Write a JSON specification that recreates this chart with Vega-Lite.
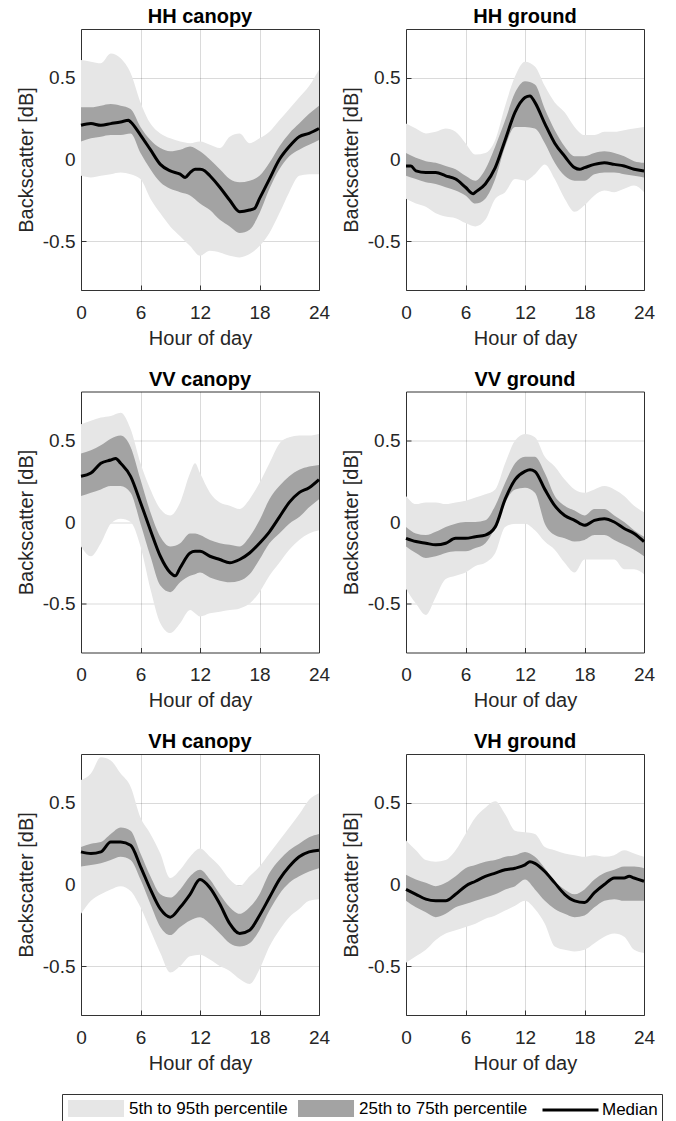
{
"$schema": "https://vega.github.io/schema/vega-lite/v6.json",
"background": "white",
"padding": {"left": 15, "top": 6, "right": 0, "bottom": 0},
"config": {
  "font": "Liberation Sans",
  "view": {"stroke": "#333333", "strokeWidth": 1},
  "axis": {"labelFont": "Liberation Sans", "titleFont": "Liberation Sans", "labelFontSize": 19, "titleFontSize": 20, "titleFontWeight": "normal", "labelColor": "#262626", "titleColor": "#262626", "grid": true, "gridColor": "#262626", "gridOpacity": 0.17, "gridWidth": 1, "domain": false, "ticks": true, "tickSize": -5, "tickColor": "#333333", "tickWidth": 1, "zindex": 1, "labelOverlap": false},
  "title": {"font": "Liberation Sans", "fontSize": 20, "fontWeight": "bold", "color": "#000000", "offset": 2, "baseline": "alphabetic", "anchor": "middle"},
  "legend": {"labelFont": "Liberation Sans", "labelFontSize": 17, "labelColor": "#000000", "labelLimit": 400, "titleFont": "Liberation Sans", "titleFontSize": 17}
},
"data": {"values": [
{"p":"HH canopy","h":0,"hi":0.61,"q3":0.32,"m":0.21,"q1":0.11,"lo":-0.10},
{"p":"HH canopy","h":1,"hi":0.60,"q3":0.32,"m":0.22,"q1":0.13,"lo":-0.11},
{"p":"HH canopy","h":2,"hi":0.59,"q3":0.33,"m":0.21,"q1":0.14,"lo":-0.10},
{"p":"HH canopy","h":3,"hi":0.65,"q3":0.34,"m":0.22,"q1":0.15,"lo":-0.09},
{"p":"HH canopy","h":4,"hi":0.62,"q3":0.33,"m":0.23,"q1":0.15,"lo":-0.08},
{"p":"HH canopy","h":5,"hi":0.53,"q3":0.31,"m":0.23,"q1":0.16,"lo":-0.09},
{"p":"HH canopy","h":6,"hi":0.35,"q3":0.20,"m":0.15,"q1":0.04,"lo":-0.12},
{"p":"HH canopy","h":7,"hi":0.22,"q3":0.12,"m":0.06,"q1":-0.06,"lo":-0.24},
{"p":"HH canopy","h":8,"hi":0.16,"q3":0.07,"m":-0.03,"q1":-0.14,"lo":-0.33},
{"p":"HH canopy","h":9,"hi":0.13,"q3":0.05,"m":-0.07,"q1":-0.18,"lo":-0.41},
{"p":"HH canopy","h":10,"hi":0.11,"q3":0.06,"m":-0.09,"q1":-0.20,"lo":-0.47},
{"p":"HH canopy","h":11,"hi":0.10,"q3":0.08,"m":-0.08,"q1":-0.22,"lo":-0.53},
{"p":"HH canopy","h":12,"hi":0.11,"q3":0.05,"m":-0.06,"q1":-0.27,"lo":-0.59},
{"p":"HH canopy","h":13,"hi":0.09,"q3":0.00,"m":-0.10,"q1":-0.31,"lo":-0.56},
{"p":"HH canopy","h":14,"hi":0.07,"q3":-0.06,"m":-0.17,"q1":-0.37,"lo":-0.57},
{"p":"HH canopy","h":15,"hi":0.14,"q3":-0.12,"m":-0.25,"q1":-0.41,"lo":-0.59},
{"p":"HH canopy","h":16,"hi":0.16,"q3":-0.14,"m":-0.32,"q1":-0.45,"lo":-0.60},
{"p":"HH canopy","h":17,"hi":0.10,"q3":-0.13,"m":-0.31,"q1":-0.43,"lo":-0.58},
{"p":"HH canopy","h":18,"hi":0.13,"q3":-0.10,"m":-0.24,"q1":-0.33,"lo":-0.53},
{"p":"HH canopy","h":19,"hi":0.17,"q3":-0.02,"m":-0.12,"q1":-0.18,"lo":-0.45},
{"p":"HH canopy","h":20,"hi":0.24,"q3":0.08,"m":0.00,"q1":-0.06,"lo":-0.33},
{"p":"HH canopy","h":21,"hi":0.31,"q3":0.16,"m":0.08,"q1":0.02,"lo":-0.20},
{"p":"HH canopy","h":22,"hi":0.38,"q3":0.22,"m":0.14,"q1":0.06,"lo":-0.10},
{"p":"HH canopy","h":23,"hi":0.45,"q3":0.28,"m":0.16,"q1":0.09,"lo":-0.09},
{"p":"HH canopy","h":24,"hi":0.55,"q3":0.33,"m":0.19,"q1":0.12,"lo":-0.09},
{"p":"HH canopy","h":4.8,"m":0.24},
{"p":"HH canopy","h":10.5,"m":-0.11},
{"p":"HH canopy","h":11.5,"m":-0.06},
{"p":"HH canopy","h":12.5,"m":-0.07},
{"p":"HH canopy","h":17.5,"m":-0.30},
{"p":"HH ground","h":0,"hi":0.22,"q3":0.04,"m":-0.04,"q1":-0.10,"lo":-0.24},
{"p":"HH ground","h":1,"hi":0.19,"q3":0.01,"m":-0.07,"q1":-0.12,"lo":-0.27},
{"p":"HH ground","h":2,"hi":0.16,"q3":-0.01,"m":-0.08,"q1":-0.14,"lo":-0.29},
{"p":"HH ground","h":3,"hi":0.17,"q3":-0.02,"m":-0.08,"q1":-0.15,"lo":-0.33},
{"p":"HH ground","h":4,"hi":0.19,"q3":-0.04,"m":-0.10,"q1":-0.17,"lo":-0.35},
{"p":"HH ground","h":5,"hi":0.17,"q3":-0.06,"m":-0.12,"q1":-0.19,"lo":-0.36},
{"p":"HH ground","h":6,"hi":0.10,"q3":-0.10,"m":-0.17,"q1":-0.22,"lo":-0.39},
{"p":"HH ground","h":7,"hi":0.03,"q3":-0.13,"m":-0.20,"q1":-0.27,"lo":-0.41},
{"p":"HH ground","h":8,"hi":0.04,"q3":-0.06,"m":-0.15,"q1":-0.24,"lo":-0.37},
{"p":"HH ground","h":9,"hi":0.12,"q3":0.08,"m":-0.05,"q1":-0.12,"lo":-0.24},
{"p":"HH ground","h":10,"hi":0.33,"q3":0.24,"m":0.12,"q1":0.08,"lo":-0.20},
{"p":"HH ground","h":11,"hi":0.51,"q3":0.41,"m":0.29,"q1":0.20,"lo":-0.12},
{"p":"HH ground","h":12,"hi":0.60,"q3":0.48,"m":0.38,"q1":0.20,"lo":-0.13},
{"p":"HH ground","h":13,"hi":0.57,"q3":0.46,"m":0.35,"q1":0.19,"lo":-0.09},
{"p":"HH ground","h":14,"hi":0.45,"q3":0.31,"m":0.22,"q1":0.10,"lo":-0.03},
{"p":"HH ground","h":15,"hi":0.35,"q3":0.18,"m":0.10,"q1":-0.02,"lo":-0.12},
{"p":"HH ground","h":16,"hi":0.29,"q3":0.08,"m":0.02,"q1":-0.10,"lo":-0.24},
{"p":"HH ground","h":17,"hi":0.20,"q3":0.02,"m":-0.05,"q1":-0.13,"lo":-0.32},
{"p":"HH ground","h":18,"hi":0.15,"q3":0.02,"m":-0.05,"q1":-0.13,"lo":-0.28},
{"p":"HH ground","h":19,"hi":0.15,"q3":0.04,"m":-0.03,"q1":-0.09,"lo":-0.22},
{"p":"HH ground","h":20,"hi":0.17,"q3":0.05,"m":-0.02,"q1":-0.08,"lo":-0.19},
{"p":"HH ground","h":21,"hi":0.17,"q3":0.04,"m":-0.03,"q1":-0.08,"lo":-0.20},
{"p":"HH ground","h":22,"hi":0.18,"q3":0.02,"m":-0.04,"q1":-0.09,"lo":-0.18},
{"p":"HH ground","h":23,"hi":0.19,"q3":-0.01,"m":-0.06,"q1":-0.10,"lo":-0.16},
{"p":"HH ground","h":24,"hi":0.20,"q3":-0.02,"m":-0.07,"q1":-0.11,"lo":-0.20},
{"p":"HH ground","h":0.5,"m":-0.04},
{"p":"HH ground","h":6.8,"m":-0.21},
{"p":"HH ground","h":12.5,"m":0.39},
{"p":"HH ground","h":17.5,"m":-0.06},
{"p":"VV canopy","h":0,"hi":0.60,"q3":0.42,"m":0.28,"q1":0.16,"lo":-0.15},
{"p":"VV canopy","h":1,"hi":0.62,"q3":0.44,"m":0.30,"q1":0.18,"lo":-0.21},
{"p":"VV canopy","h":2,"hi":0.64,"q3":0.47,"m":0.36,"q1":0.20,"lo":-0.13},
{"p":"VV canopy","h":3,"hi":0.65,"q3":0.51,"m":0.38,"q1":0.22,"lo":-0.01},
{"p":"VV canopy","h":4,"hi":0.67,"q3":0.53,"m":0.36,"q1":0.22,"lo":0.02},
{"p":"VV canopy","h":5,"hi":0.57,"q3":0.46,"m":0.28,"q1":0.18,"lo":0.00},
{"p":"VV canopy","h":6,"hi":0.36,"q3":0.26,"m":0.12,"q1":-0.01,"lo":-0.15},
{"p":"VV canopy","h":7,"hi":0.20,"q3":0.06,"m":-0.05,"q1":-0.21,"lo":-0.41},
{"p":"VV canopy","h":8,"hi":0.08,"q3":-0.09,"m":-0.21,"q1":-0.39,"lo":-0.62},
{"p":"VV canopy","h":9,"hi":0.04,"q3":-0.15,"m":-0.31,"q1":-0.43,"lo":-0.68},
{"p":"VV canopy","h":10,"hi":0.12,"q3":-0.13,"m":-0.28,"q1":-0.37,"lo":-0.62},
{"p":"VV canopy","h":11,"hi":0.30,"q3":-0.07,"m":-0.19,"q1":-0.33,"lo":-0.54},
{"p":"VV canopy","h":11.5,"hi":0.36,"q3":-0.07,"m":-0.18,"q1":-0.32,"lo":-0.56},
{"p":"VV canopy","h":12,"hi":0.30,"q3":-0.08,"m":-0.18,"q1":-0.31,"lo":-0.58},
{"p":"VV canopy","h":13,"hi":0.18,"q3":-0.11,"m":-0.21,"q1":-0.34,"lo":-0.56},
{"p":"VV canopy","h":14,"hi":0.12,"q3":-0.13,"m":-0.23,"q1":-0.36,"lo":-0.55},
{"p":"VV canopy","h":15,"hi":0.10,"q3":-0.14,"m":-0.25,"q1":-0.37,"lo":-0.54},
{"p":"VV canopy","h":16,"hi":0.08,"q3":-0.15,"m":-0.23,"q1":-0.36,"lo":-0.53},
{"p":"VV canopy","h":17,"hi":0.14,"q3":-0.09,"m":-0.19,"q1":-0.32,"lo":-0.50},
{"p":"VV canopy","h":18,"hi":0.24,"q3":0.01,"m":-0.13,"q1":-0.23,"lo":-0.43},
{"p":"VV canopy","h":19,"hi":0.36,"q3":0.14,"m":-0.06,"q1":-0.13,"lo":-0.33},
{"p":"VV canopy","h":20,"hi":0.48,"q3":0.22,"m":0.03,"q1":-0.07,"lo":-0.25},
{"p":"VV canopy","h":21,"hi":0.52,"q3":0.28,"m":0.12,"q1":-0.01,"lo":-0.17},
{"p":"VV canopy","h":22,"hi":0.53,"q3":0.32,"m":0.18,"q1":0.03,"lo":-0.11},
{"p":"VV canopy","h":23,"hi":0.53,"q3":0.34,"m":0.21,"q1":0.09,"lo":-0.07},
{"p":"VV canopy","h":24,"hi":0.54,"q3":0.35,"m":0.26,"q1":0.14,"lo":-0.05},
{"p":"VV canopy","h":3.5,"m":0.39},
{"p":"VV canopy","h":9.5,"m":-0.33},
{"p":"VV ground","h":0,"hi":0.16,"q3":-0.03,"m":-0.10,"q1":-0.15,"lo":-0.41},
{"p":"VV ground","h":1,"hi":0.11,"q3":-0.07,"m":-0.12,"q1":-0.19,"lo":-0.50},
{"p":"VV ground","h":2,"hi":0.12,"q3":-0.08,"m":-0.13,"q1":-0.22,"lo":-0.57},
{"p":"VV ground","h":3,"hi":0.12,"q3":-0.06,"m":-0.14,"q1":-0.21,"lo":-0.46},
{"p":"VV ground","h":4,"hi":0.11,"q3":-0.03,"m":-0.13,"q1":-0.19,"lo":-0.35},
{"p":"VV ground","h":5,"hi":0.12,"q3":-0.01,"m":-0.10,"q1":-0.18,"lo":-0.33},
{"p":"VV ground","h":6,"hi":0.13,"q3":0.00,"m":-0.10,"q1":-0.18,"lo":-0.31},
{"p":"VV ground","h":7,"hi":0.15,"q3":0.00,"m":-0.09,"q1":-0.16,"lo":-0.27},
{"p":"VV ground","h":8,"hi":0.17,"q3":0.01,"m":-0.08,"q1":-0.13,"lo":-0.25},
{"p":"VV ground","h":9,"hi":0.20,"q3":0.10,"m":-0.03,"q1":-0.03,"lo":-0.19},
{"p":"VV ground","h":10,"hi":0.36,"q3":0.24,"m":0.14,"q1":0.12,"lo":-0.03},
{"p":"VV ground","h":11,"hi":0.50,"q3":0.36,"m":0.26,"q1":0.20,"lo":-0.01},
{"p":"VV ground","h":12,"hi":0.54,"q3":0.40,"m":0.31,"q1":0.21,"lo":-0.01},
{"p":"VV ground","h":13,"hi":0.52,"q3":0.40,"m":0.31,"q1":0.18,"lo":-0.05},
{"p":"VV ground","h":14,"hi":0.40,"q3":0.30,"m":0.20,"q1":-0.01,"lo":-0.12},
{"p":"VV ground","h":15,"hi":0.34,"q3":0.16,"m":0.10,"q1":-0.08,"lo":-0.17},
{"p":"VV ground","h":16,"hi":0.26,"q3":0.10,"m":0.04,"q1":-0.10,"lo":-0.25},
{"p":"VV ground","h":17,"hi":0.20,"q3":0.07,"m":0.01,"q1":-0.12,"lo":-0.31},
{"p":"VV ground","h":18,"hi":0.18,"q3":0.04,"m":-0.02,"q1":-0.11,"lo":-0.23},
{"p":"VV ground","h":19,"hi":0.20,"q3":0.08,"m":0.01,"q1":-0.08,"lo":-0.23},
{"p":"VV ground","h":20,"hi":0.22,"q3":0.08,"m":0.02,"q1":-0.08,"lo":-0.23},
{"p":"VV ground","h":21,"hi":0.20,"q3":0.04,"m":0.00,"q1":-0.11,"lo":-0.23},
{"p":"VV ground","h":22,"hi":0.16,"q3":0.00,"m":-0.04,"q1":-0.14,"lo":-0.29},
{"p":"VV ground","h":23,"hi":0.10,"q3":-0.05,"m":-0.07,"q1":-0.17,"lo":-0.29},
{"p":"VV ground","h":24,"hi":0.06,"q3":-0.09,"m":-0.12,"q1":-0.21,"lo":-0.32},
{"p":"VV ground","h":12.5,"m":0.32},
{"p":"VH canopy","h":0,"hi":0.64,"q3":0.23,"m":0.20,"q1":0.11,"lo":-0.18},
{"p":"VH canopy","h":1,"hi":0.68,"q3":0.25,"m":0.19,"q1":0.12,"lo":-0.10},
{"p":"VH canopy","h":2,"hi":0.78,"q3":0.26,"m":0.20,"q1":0.13,"lo":-0.06},
{"p":"VH canopy","h":3,"hi":0.76,"q3":0.31,"m":0.26,"q1":0.15,"lo":-0.03},
{"p":"VH canopy","h":4,"hi":0.68,"q3":0.35,"m":0.26,"q1":0.17,"lo":-0.01},
{"p":"VH canopy","h":5,"hi":0.60,"q3":0.33,"m":0.24,"q1":0.15,"lo":-0.04},
{"p":"VH canopy","h":6,"hi":0.41,"q3":0.19,"m":0.11,"q1":0.03,"lo":-0.14},
{"p":"VH canopy","h":7,"hi":0.31,"q3":0.05,"m":-0.03,"q1":-0.12,"lo":-0.28},
{"p":"VH canopy","h":8,"hi":0.19,"q3":-0.06,"m":-0.15,"q1":-0.26,"lo":-0.42},
{"p":"VH canopy","h":9,"hi":0.04,"q3":-0.08,"m":-0.20,"q1":-0.31,"lo":-0.54},
{"p":"VH canopy","h":10,"hi":0.09,"q3":-0.03,"m":-0.14,"q1":-0.26,"lo":-0.50},
{"p":"VH canopy","h":11,"hi":0.17,"q3":0.05,"m":-0.06,"q1":-0.22,"lo":-0.44},
{"p":"VH canopy","h":12,"hi":0.22,"q3":0.09,"m":0.03,"q1":-0.20,"lo":-0.43},
{"p":"VH canopy","h":13,"hi":0.17,"q3":0.03,"m":-0.02,"q1":-0.24,"lo":-0.46},
{"p":"VH canopy","h":14,"hi":0.11,"q3":-0.06,"m":-0.12,"q1":-0.30,"lo":-0.50},
{"p":"VH canopy","h":15,"hi":0.03,"q3":-0.14,"m":-0.24,"q1":-0.36,"lo":-0.53},
{"p":"VH canopy","h":16,"hi":-0.01,"q3":-0.18,"m":-0.30,"q1":-0.38,"lo":-0.58},
{"p":"VH canopy","h":17,"hi":0.05,"q3":-0.14,"m":-0.28,"q1":-0.36,"lo":-0.61},
{"p":"VH canopy","h":18,"hi":0.11,"q3":-0.06,"m":-0.19,"q1":-0.28,"lo":-0.52},
{"p":"VH canopy","h":19,"hi":0.19,"q3":0.07,"m":-0.08,"q1":-0.16,"lo":-0.38},
{"p":"VH canopy","h":20,"hi":0.27,"q3":0.15,"m":0.03,"q1":-0.06,"lo":-0.28},
{"p":"VH canopy","h":21,"hi":0.35,"q3":0.21,"m":0.11,"q1":0.01,"lo":-0.20},
{"p":"VH canopy","h":22,"hi":0.43,"q3":0.25,"m":0.17,"q1":0.05,"lo":-0.15},
{"p":"VH canopy","h":23,"hi":0.52,"q3":0.29,"m":0.20,"q1":0.08,"lo":-0.10},
{"p":"VH canopy","h":24,"hi":0.56,"q3":0.31,"m":0.21,"q1":0.10,"lo":-0.09},
{"p":"VH ground","h":0,"hi":0.27,"q3":0.06,"m":-0.03,"q1":-0.10,"lo":-0.48},
{"p":"VH ground","h":1,"hi":0.21,"q3":0.03,"m":-0.06,"q1":-0.14,"lo":-0.44},
{"p":"VH ground","h":2,"hi":0.15,"q3":0.01,"m":-0.09,"q1":-0.17,"lo":-0.40},
{"p":"VH ground","h":3,"hi":0.14,"q3":-0.01,"m":-0.10,"q1":-0.20,"lo":-0.34},
{"p":"VH ground","h":4,"hi":0.15,"q3":0.01,"m":-0.10,"q1":-0.18,"lo":-0.30},
{"p":"VH ground","h":5,"hi":0.21,"q3":0.05,"m":-0.06,"q1":-0.14,"lo":-0.28},
{"p":"VH ground","h":6,"hi":0.31,"q3":0.10,"m":-0.01,"q1":-0.12,"lo":-0.26},
{"p":"VH ground","h":7,"hi":0.41,"q3":0.12,"m":0.02,"q1":-0.10,"lo":-0.24},
{"p":"VH ground","h":8,"hi":0.47,"q3":0.14,"m":0.05,"q1":-0.08,"lo":-0.21},
{"p":"VH ground","h":9,"hi":0.51,"q3":0.15,"m":0.07,"q1":-0.06,"lo":-0.19},
{"p":"VH ground","h":10,"hi":0.43,"q3":0.17,"m":0.09,"q1":-0.03,"lo":-0.16},
{"p":"VH ground","h":11,"hi":0.33,"q3":0.18,"m":0.10,"q1":-0.01,"lo":-0.13},
{"p":"VH ground","h":12,"hi":0.32,"q3":0.20,"m":0.12,"q1":0.03,"lo":-0.10},
{"p":"VH ground","h":13,"hi":0.31,"q3":0.17,"m":0.13,"q1":-0.03,"lo":-0.15},
{"p":"VH ground","h":14,"hi":0.23,"q3":0.10,"m":0.08,"q1":-0.10,"lo":-0.24},
{"p":"VH ground","h":15,"hi":0.21,"q3":0.02,"m":0.01,"q1":-0.15,"lo":-0.38},
{"p":"VH ground","h":16,"hi":0.19,"q3":-0.03,"m":-0.06,"q1":-0.18,"lo":-0.40},
{"p":"VH ground","h":17,"hi":0.18,"q3":-0.06,"m":-0.10,"q1":-0.20,"lo":-0.41},
{"p":"VH ground","h":18,"hi":0.17,"q3":-0.03,"m":-0.11,"q1":-0.19,"lo":-0.40},
{"p":"VH ground","h":19,"hi":0.18,"q3":0.03,"m":-0.05,"q1":-0.14,"lo":-0.36},
{"p":"VH ground","h":20,"hi":0.17,"q3":0.07,"m":0.00,"q1":-0.10,"lo":-0.32},
{"p":"VH ground","h":21,"hi":0.18,"q3":0.09,"m":0.04,"q1":-0.09,"lo":-0.30},
{"p":"VH ground","h":22,"hi":0.21,"q3":0.11,"m":0.04,"q1":-0.10,"lo":-0.32},
{"p":"VH ground","h":23,"hi":0.19,"q3":0.11,"m":0.04,"q1":-0.10,"lo":-0.40},
{"p":"VH ground","h":24,"hi":0.17,"q3":0.10,"m":0.02,"q1":-0.10,"lo":-0.42},
{"p":"VH ground","h":12.5,"m":0.14},
{"p":"VH ground","h":22.5,"m":0.05}
]},
"columns": 2,
"spacing": {"row": 101.5, "column": 87},
"bounds": "flush",
"resolve": {"scale": {"fill": "shared", "stroke": "shared"}},
"concat": [
{"title": "HH canopy", "width": 238, "height": 261, "transform": [{"filter": "datum.p === 'HH canopy'"}],
 "layer": [
  {"transform": [{"filter": "isValid(datum.hi)"}], "mark": {"type": "area", "opacity": 1, "interpolate": "monotone"},
   "encoding": {"x": {"field": "h", "type": "quantitative", "scale": {"domain": [0, 24], "nice": false}, "axis": {"values": [0, 6, 12, 18, 24], "title": "Hour of day", "labelFlush": false, "labelPadding": 18, "titlePadding": 6}},
    "y": {"field": "hi", "type": "quantitative", "scale": {"domain": [-0.8, 0.8], "nice": false}, "axis": {"values": [-0.5, 0, 0.5], "title": "Backscatter [dB]", "labelPadding": 11, "titlePadding": 6, "labelExpr": "datum.value == 0 ? '0' : (datum.value < 0 ? '-' + format(-datum.value, '.1f') : format(datum.value, '.1f'))"}},
    "y2": {"field": "lo"},
    "fill": {"datum": "5th to 95th percentile", "scale": {"domain": ["5th to 95th percentile", "25th to 75th percentile"], "range": ["#e6e6e6", "#a3a3a3"]},
     "legend": {"orient": "none", "legendX": -19, "legendY": 1065, "direction": "horizontal", "title": " ", "titleOrient": "right", "titlePadding": 129, "symbolType": "M-1,-1H5.59V1H-1Z", "symbolSize": 289, "symbolStrokeWidth": 0, "labelOffset": 44, "columnPadding": 10, "padding": 6, "strokeColor": "#333333", "fillColor": "transparent", "cornerRadius": 0, "labelFontSize": 17, "labelLimit": 400}}}},
  {"transform": [{"filter": "isValid(datum.q3)"}], "mark": {"type": "area", "opacity": 1, "interpolate": "monotone"},
   "encoding": {"x": {"field": "h", "type": "quantitative"}, "y": {"field": "q3", "type": "quantitative"}, "y2": {"field": "q1"}, "fill": {"datum": "25th to 75th percentile"}}},
  {"mark": {"type": "line", "strokeWidth": 3, "interpolate": "monotone"}, "encoding": {"x": {"field": "h", "type": "quantitative"}, "y": {"field": "m", "type": "quantitative"},
   "stroke": {"datum": "Median", "scale": {"domain": ["Median"], "range": ["#000000"]},
    "legend": {"orient": "none", "legendX": 460, "legendY": 1071, "direction": "horizontal", "title": null, "symbolType": "M-1,0H5.59", "symbolSize": 289, "symbolStrokeWidth": 3, "symbolStrokeColor": "#000000", "labelOffset": 41, "padding": 0, "labelFontSize": 17, "labelLimit": 400}}}}
 ]},
{"title": "HH ground", "width": 238, "height": 261, "transform": [{"filter": "datum.p === 'HH ground'"}],
 "layer": [
  {"transform": [{"filter": "isValid(datum.hi)"}], "mark": {"type": "area", "opacity": 1, "interpolate": "monotone"},
   "encoding": {"x": {"field": "h", "type": "quantitative", "scale": {"domain": [0, 24], "nice": false}, "axis": {"values": [0, 6, 12, 18, 24], "title": "Hour of day", "labelFlush": false, "labelPadding": 18, "titlePadding": 6}},
    "y": {"field": "hi", "type": "quantitative", "scale": {"domain": [-0.8, 0.8], "nice": false}, "axis": {"values": [-0.5, 0, 0.5], "title": "Backscatter [dB]", "labelPadding": 11, "titlePadding": 6, "labelExpr": "datum.value == 0 ? '0' : (datum.value < 0 ? '-' + format(-datum.value, '.1f') : format(datum.value, '.1f'))"}},
    "y2": {"field": "lo"}, "fill": {"datum": "5th to 95th percentile"}}},
  {"transform": [{"filter": "isValid(datum.q3)"}], "mark": {"type": "area", "opacity": 1, "interpolate": "monotone"},
   "encoding": {"x": {"field": "h", "type": "quantitative"}, "y": {"field": "q3", "type": "quantitative"}, "y2": {"field": "q1"}, "fill": {"datum": "25th to 75th percentile"}}},
  {"mark": {"type": "line", "strokeWidth": 3, "interpolate": "monotone"}, "encoding": {"x": {"field": "h", "type": "quantitative"}, "y": {"field": "m", "type": "quantitative"}, "stroke": {"datum": "Median"}}}
 ]},
{"title": "VV canopy", "width": 238, "height": 261, "transform": [{"filter": "datum.p === 'VV canopy'"}],
 "layer": [
  {"transform": [{"filter": "isValid(datum.hi)"}], "mark": {"type": "area", "opacity": 1, "interpolate": "monotone"},
   "encoding": {"x": {"field": "h", "type": "quantitative", "scale": {"domain": [0, 24], "nice": false}, "axis": {"values": [0, 6, 12, 18, 24], "title": "Hour of day", "labelFlush": false, "labelPadding": 18, "titlePadding": 6}},
    "y": {"field": "hi", "type": "quantitative", "scale": {"domain": [-0.8, 0.8], "nice": false}, "axis": {"values": [-0.5, 0, 0.5], "title": "Backscatter [dB]", "labelPadding": 11, "titlePadding": 6, "labelExpr": "datum.value == 0 ? '0' : (datum.value < 0 ? '-' + format(-datum.value, '.1f') : format(datum.value, '.1f'))"}},
    "y2": {"field": "lo"}, "fill": {"datum": "5th to 95th percentile"}}},
  {"transform": [{"filter": "isValid(datum.q3)"}], "mark": {"type": "area", "opacity": 1, "interpolate": "monotone"},
   "encoding": {"x": {"field": "h", "type": "quantitative"}, "y": {"field": "q3", "type": "quantitative"}, "y2": {"field": "q1"}, "fill": {"datum": "25th to 75th percentile"}}},
  {"mark": {"type": "line", "strokeWidth": 3, "interpolate": "monotone"}, "encoding": {"x": {"field": "h", "type": "quantitative"}, "y": {"field": "m", "type": "quantitative"}, "stroke": {"datum": "Median"}}}
 ]},
{"title": "VV ground", "width": 238, "height": 261, "transform": [{"filter": "datum.p === 'VV ground'"}],
 "layer": [
  {"transform": [{"filter": "isValid(datum.hi)"}], "mark": {"type": "area", "opacity": 1, "interpolate": "monotone"},
   "encoding": {"x": {"field": "h", "type": "quantitative", "scale": {"domain": [0, 24], "nice": false}, "axis": {"values": [0, 6, 12, 18, 24], "title": "Hour of day", "labelFlush": false, "labelPadding": 18, "titlePadding": 6}},
    "y": {"field": "hi", "type": "quantitative", "scale": {"domain": [-0.8, 0.8], "nice": false}, "axis": {"values": [-0.5, 0, 0.5], "title": "Backscatter [dB]", "labelPadding": 11, "titlePadding": 6, "labelExpr": "datum.value == 0 ? '0' : (datum.value < 0 ? '-' + format(-datum.value, '.1f') : format(datum.value, '.1f'))"}},
    "y2": {"field": "lo"}, "fill": {"datum": "5th to 95th percentile"}}},
  {"transform": [{"filter": "isValid(datum.q3)"}], "mark": {"type": "area", "opacity": 1, "interpolate": "monotone"},
   "encoding": {"x": {"field": "h", "type": "quantitative"}, "y": {"field": "q3", "type": "quantitative"}, "y2": {"field": "q1"}, "fill": {"datum": "25th to 75th percentile"}}},
  {"mark": {"type": "line", "strokeWidth": 3, "interpolate": "monotone"}, "encoding": {"x": {"field": "h", "type": "quantitative"}, "y": {"field": "m", "type": "quantitative"}, "stroke": {"datum": "Median"}}}
 ]},
{"title": "VH canopy", "width": 238, "height": 261, "transform": [{"filter": "datum.p === 'VH canopy'"}],
 "layer": [
  {"transform": [{"filter": "isValid(datum.hi)"}], "mark": {"type": "area", "opacity": 1, "interpolate": "monotone"},
   "encoding": {"x": {"field": "h", "type": "quantitative", "scale": {"domain": [0, 24], "nice": false}, "axis": {"values": [0, 6, 12, 18, 24], "title": "Hour of day", "labelFlush": false, "labelPadding": 18, "titlePadding": 6}},
    "y": {"field": "hi", "type": "quantitative", "scale": {"domain": [-0.8, 0.8], "nice": false}, "axis": {"values": [-0.5, 0, 0.5], "title": "Backscatter [dB]", "labelPadding": 11, "titlePadding": 6, "labelExpr": "datum.value == 0 ? '0' : (datum.value < 0 ? '-' + format(-datum.value, '.1f') : format(datum.value, '.1f'))"}},
    "y2": {"field": "lo"}, "fill": {"datum": "5th to 95th percentile"}}},
  {"transform": [{"filter": "isValid(datum.q3)"}], "mark": {"type": "area", "opacity": 1, "interpolate": "monotone"},
   "encoding": {"x": {"field": "h", "type": "quantitative"}, "y": {"field": "q3", "type": "quantitative"}, "y2": {"field": "q1"}, "fill": {"datum": "25th to 75th percentile"}}},
  {"mark": {"type": "line", "strokeWidth": 3, "interpolate": "monotone"}, "encoding": {"x": {"field": "h", "type": "quantitative"}, "y": {"field": "m", "type": "quantitative"}, "stroke": {"datum": "Median"}}}
 ]},
{"title": "VH ground", "width": 238, "height": 261, "transform": [{"filter": "datum.p === 'VH ground'"}],
 "layer": [
  {"transform": [{"filter": "isValid(datum.hi)"}], "mark": {"type": "area", "opacity": 1, "interpolate": "monotone"},
   "encoding": {"x": {"field": "h", "type": "quantitative", "scale": {"domain": [0, 24], "nice": false}, "axis": {"values": [0, 6, 12, 18, 24], "title": "Hour of day", "labelFlush": false, "labelPadding": 18, "titlePadding": 6}},
    "y": {"field": "hi", "type": "quantitative", "scale": {"domain": [-0.8, 0.8], "nice": false}, "axis": {"values": [-0.5, 0, 0.5], "title": "Backscatter [dB]", "labelPadding": 11, "titlePadding": 6, "labelExpr": "datum.value == 0 ? '0' : (datum.value < 0 ? '-' + format(-datum.value, '.1f') : format(datum.value, '.1f'))"}},
    "y2": {"field": "lo"}, "fill": {"datum": "5th to 95th percentile"}}},
  {"transform": [{"filter": "isValid(datum.q3)"}], "mark": {"type": "area", "opacity": 1, "interpolate": "monotone"},
   "encoding": {"x": {"field": "h", "type": "quantitative"}, "y": {"field": "q3", "type": "quantitative"}, "y2": {"field": "q1"}, "fill": {"datum": "25th to 75th percentile"}}},
  {"mark": {"type": "line", "strokeWidth": 3, "interpolate": "monotone"}, "encoding": {"x": {"field": "h", "type": "quantitative"}, "y": {"field": "m", "type": "quantitative"}, "stroke": {"datum": "Median"}}}
 ]}
]
}
